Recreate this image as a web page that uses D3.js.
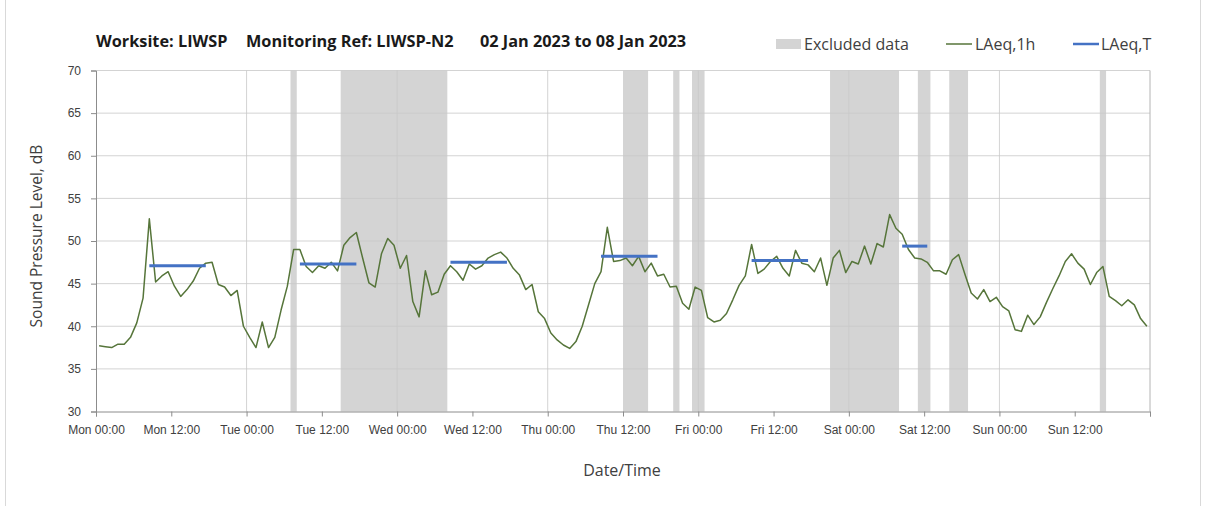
<!DOCTYPE html>
<html>
<head>
<meta charset="utf-8">
<script src="https://cdnjs.cloudflare.com/ajax/libs/d3/7.8.5/d3.min.js"></script>
<style>
  body { margin: 0; background: #fff; }
  svg { display: block; font-family: "Open Sans", sans-serif; }
</style>
</head>
<body>
<script>
// hourly LAeq,1h values from Mon 02 Jan 00:00, one per hour (168)
let hourlyLAeq = [
  37.7, 37.6, 37.5, 37.9, 37.9, 38.7, 40.4, 43.3, 52.6, 45.2, 45.9, 46.4,
  44.7, 43.5, 44.3, 45.3, 46.8, 47.4, 47.5, 44.9, 44.6, 43.6, 44.2, 40.0,
  38.7, 37.5, 40.5, 37.5, 38.7, 41.9, 44.7, 49.0, 49.0, 47.0, 46.3, 47.1,
  46.8, 47.5, 46.5, 49.5, 50.4, 51.0, 48.0, 45.1, 44.6, 48.5, 50.3, 49.5,
  46.8, 48.3, 42.9, 41.1, 46.5, 43.7, 44.0, 46.1, 47.1, 46.4, 45.4, 47.3,
  46.7, 47.1, 48.0, 48.4, 48.7, 48.0, 46.8, 46.0, 44.3, 44.9, 41.7, 40.9,
  39.2, 38.4, 37.8, 37.4, 38.2, 40.0, 42.5, 45.0, 46.4, 51.6, 47.6, 47.7,
  48.0, 47.1, 48.2, 46.4, 47.4, 45.9, 46.1, 44.6, 44.7, 42.7, 42.0, 44.6,
  44.2, 41.0, 40.5, 40.7, 41.5, 43.1, 44.8, 45.9, 49.6, 46.2, 46.7, 47.6,
  48.2, 46.8, 45.9, 48.9, 47.4, 47.2, 46.4, 48.0, 44.8, 48.0, 48.9, 46.3,
  47.6, 47.3, 49.4, 47.3, 49.7, 49.3, 53.1, 51.5, 50.8, 49.0, 48.0, 47.9,
  47.5, 46.5, 46.5, 46.1, 47.8, 48.4, 46.1, 43.9, 43.2, 44.3, 42.9, 43.4,
  42.3, 41.8, 39.6, 39.4, 41.3, 40.2, 41.1, 42.8, 44.4, 45.9, 47.6, 48.5,
  47.4, 46.7, 44.9, 46.3, 47.0, 43.5, 43.0, 42.4, 43.1, 42.5, 40.9, 40.0
];

// excluded data, [from hour, to hour]
let excludedFrom = [31, 39, 84, 92, 95, 117, 131, 136, 160];
let excludedTo   = [32, 56, 88, 93, 97, 128, 133, 139, 161];

// LAeq,T over the daytime periods (first and last hourly sample)
let periodFrom = [8, 32, 56, 80, 104, 128];
let periodTo   = [17, 41, 65, 89, 113, 132];
let periodLAeq = [47.1, 47.3, 47.5, 48.2, 47.7, 49.4];

let yTicks = [30, 35, 40, 45, 50, 55, 60, 65, 70];
let titleParts = ["Worksite: LIWSP", "Monitoring Ref: LIWSP-N2", "02 Jan 2023 to 08 Jan 2023"];
let legendLabels = ["Excluded data", "LAeq,1h", "LAeq,T"];

let width = 1208, height = 506;
let mLeft = 96, mRight = 1150, mTop = 70.5, mBottom = 411.5;
let hour = 3600 * 1000;
let start = new Date(2023, 0, 2, 0, 0);
let end = new Date(+start + 168 * hour);

let svg = d3.select("body").append("svg")
  .attr("width", width)
  .attr("height", height);

// chart border
svg.append("rect")
  .attr("x", 5.5).attr("y", -2)
  .attr("width", 1195).attr("height", height + 4)
  .attr("fill", "none")
  .attr("stroke", "#d9d9d9");

let x = d3.scaleTime().domain([start, end]).range([mLeft, mRight]);
let y = d3.scaleLinear().domain([30, 70]).range([mBottom, mTop]);
let at = h => new Date(+start + h * hour);

// excluded bands
svg.append("g").selectAll("rect")
  .data(excludedFrom)
  .enter().append("rect")
  .attr("x", d => x(at(d)))
  .attr("width", (d, i) => x(at(excludedTo[i])) - x(at(d)))
  .attr("y", mTop)
  .attr("height", mBottom - mTop)
  .attr("fill", "#d4d4d4");

// gridlines
svg.append("g").selectAll("line")
  .data(yTicks.slice(1))
  .enter().append("line")
  .attr("x1", mLeft).attr("x2", mRight)
  .attr("y1", d => y(d)).attr("y2", d => y(d))
  .attr("stroke", "#c8c8c8").attr("stroke-opacity", 0.8);

let days = d3.timeDay.range(d3.timeDay.offset(start, 1), end);
svg.append("g").selectAll("line")
  .data(days)
  .enter().append("line")
  .attr("x1", d => x(d)).attr("x2", d => x(d))
  .attr("y1", mTop).attr("y2", mBottom)
  .attr("stroke", "#c8c8c8").attr("stroke-opacity", 0.8);

svg.append("line")
  .attr("x1", mRight).attr("x2", mRight)
  .attr("y1", mTop).attr("y2", mBottom)
  .attr("stroke", "#b4b4b4");

// axes
let fmt = d3.timeFormat("%a %H:%M");
let xAxis = d3.axisBottom(x)
  .tickValues(d3.timeHour.every(12).range(start, d3.timeHour.offset(end, 1)))
  .tickSize(5)
  .tickPadding(9)
  .tickFormat(d => +d === +end ? "" : fmt(d));

let gx = svg.append("g")
  .attr("transform", "translate(0," + mBottom + ")")
  .call(xAxis);

let yAxis = d3.axisLeft(y)
  .tickValues(yTicks)
  .tickSize(5)
  .tickPadding(10);

let gy = svg.append("g")
  .attr("transform", "translate(" + mLeft + ",0)")
  .call(yAxis);

[gx, gy].forEach(g => {
  g.select(".domain").attr("stroke", "#8c8c8c");
  g.selectAll(".tick line").attr("stroke", "#8c8c8c");
  g.selectAll("text").attr("fill", "#404040").style("font-size", "12px");
});

// LAeq,1h line
let line = d3.line()
  .x((d, i) => x(at(i + 0.5)))
  .y(d => y(d));

svg.append("path")
  .datum(hourlyLAeq)
  .attr("d", line)
  .attr("fill", "none")
  .attr("stroke", "#56753a")
  .attr("stroke-width", 1.5)
  .attr("stroke-linejoin", "round");

// LAeq,T segments
svg.append("g").selectAll("line")
  .data(periodLAeq)
  .enter().append("line")
  .attr("x1", (d, i) => x(at(periodFrom[i] + 0.5)))
  .attr("x2", (d, i) => x(at(periodTo[i] + 0.5)))
  .attr("y1", d => y(d)).attr("y2", d => y(d))
  .attr("stroke", "#4472c4")
  .attr("stroke-width", 3);

// titles
let titleX = [96, 246, 480];
svg.append("g").selectAll("text")
  .data(titleParts)
  .enter().append("text")
  .attr("x", (d, i) => titleX[i])
  .attr("y", 47)
  .attr("fill", "#1a1a1a")
  .style("font-size", "16.3px")
  .style("font-weight", "bold")
  .text(d => d);

svg.append("text")
  .attr("transform", "translate(42," + ((mTop + mBottom) / 2 - 5) + ") rotate(-90)")
  .attr("text-anchor", "middle")
  .attr("fill", "#404040")
  .style("font-size", "15.5px")
  .text("Sound Pressure Level, dB");

svg.append("text")
  .attr("x", 622)
  .attr("y", 476)
  .attr("text-anchor", "middle")
  .attr("fill", "#404040")
  .style("font-size", "16px")
  .text("Date/Time");

// legend
let legend = svg.append("g").style("font-size", "16px").attr("fill", "#404040");
legend.append("rect")
  .attr("x", 776).attr("y", 39).attr("width", 25).attr("height", 10)
  .attr("fill", "#d4d4d4");
legend.append("line")
  .attr("x1", 946).attr("x2", 972).attr("y1", 44).attr("y2", 44)
  .attr("stroke", "#56753a").attr("stroke-width", 1.5);
legend.append("line")
  .attr("x1", 1073).attr("x2", 1099).attr("y1", 44).attr("y2", 44)
  .attr("stroke", "#4472c4").attr("stroke-width", 2.5);
let legendX = [804, 975, 1101];
legend.selectAll("text")
  .data(legendLabels)
  .enter().append("text")
  .attr("x", (d, i) => legendX[i])
  .attr("y", 50)
  .text(d => d);
</script>
</body>
</html>
